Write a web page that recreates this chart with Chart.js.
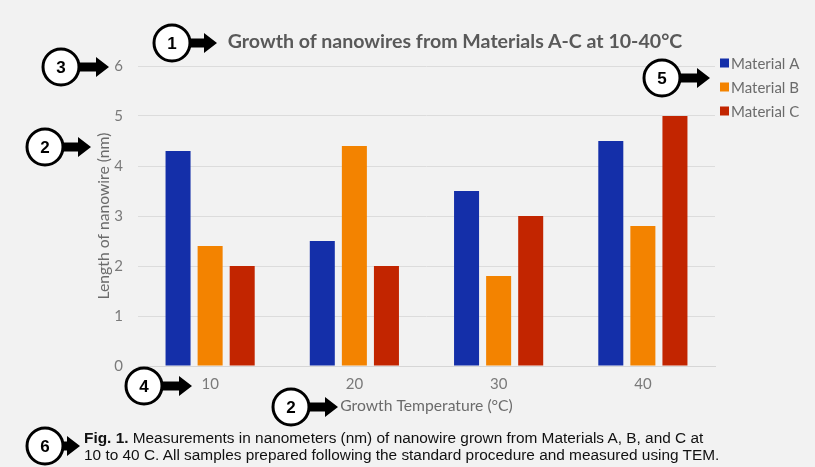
<!DOCTYPE html>
<html>
<head>
<meta charset="utf-8">
<script src="https://cdn.jsdelivr.net/npm/chart.js@4/dist/chart.umd.min.js"></script>
<style>
  html, body { margin: 0; padding: 0; background: #f2f2f2; }
  #wrap { position: relative; width: 815px; height: 467px; background: #f2f2f2; }
  #c { position: absolute; left: 0; top: 0; }
  #ov { position: absolute; left: 0; top: 0; }
</style>
</head>
<body>
<div id="wrap">
  <canvas id="c" width="815" height="467"></canvas>
  <svg id="ov" width="815" height="467" xmlns="http://www.w3.org/2000/svg"></svg>
</div>
<script>
// ---- data ----
const categories = ['10', '20', '30', '40'];
const materialA = [4.3, 2.5, 3.5, 4.5];
const materialB = [2.4, 4.4, 1.8, 2.8];
const materialC = [2.0, 2.0, 3.0, 5.0];
const seriesNames = ['Material A', 'Material B', 'Material C'];
const yTicks = [0, 1, 2, 3, 4, 5, 6];
const chartTitle = 'Growth of nanowires from Materials A-C at 10-40°C';
const xTitle = 'Growth Temperature (°C)';
const yTitle = 'Length of nanowire (nm)';
const captionBold = 'Fig. 1.';
const captionLine1 = ' Measurements in nanometers (nm) of nanowire grown from Materials A, B, and C at';
const captionLine2 = '10 to 40 C. All samples prepared following the standard procedure and measured using TEM.';
const markers = ['1', '3', '2', '5', '4', '2', '6'];

const colors = ['#142fa9', '#f38300', '#c22500'];
const FONT = 'Lato, "Open Sans", sans-serif';

const legendPlugin = {
  id: 'customLegend',
  afterDraw(chart) {
    const ctx = chart.ctx;
    ctx.save();
    ctx.font = '15px ' + FONT;
    ctx.textBaseline = 'middle';
    chart.data.datasets.forEach((ds, i) => {
      const y = 63 + i * 24;
      ctx.fillStyle = ds.backgroundColor;
      ctx.fillRect(720, y - 4.5, 9, 9);
      ctx.fillStyle = '#6b6b6b';
      ctx.fillText(ds.label, 731, y + 1);
    });
    ctx.restore();
  }
};

const chart = new Chart(document.getElementById('c'), {
  type: 'bar',
  data: {
    labels: categories,
    datasets: [
      { label: seriesNames[0], data: materialA, backgroundColor: colors[0] },
      { label: seriesNames[1], data: materialB, backgroundColor: colors[1] },
      { label: seriesNames[2], data: materialC, backgroundColor: colors[2] }
    ]
  },
  options: {
    responsive: false,
    animation: false,
    devicePixelRatio: 1,
    layout: { padding: { left: 95, right: 100, top: 66, bottom: 52 } },
    categoryPercentage: 0.667,
    barPercentage: 0.78,
    plugins: {
      legend: { display: false },
      title: { display: false },
      tooltip: { enabled: false }
    },
    scales: {
      x: {
        grid: { display: false, drawTicks: false },
        border: { display: true, color: '#d6d6d6', width: 1 },
        ticks: { color: '#7a7a7a', font: { family: FONT, size: 15 }, padding: 9 },
        title: { display: true, text: xTitle, color: '#6b6b6b', font: { family: FONT, size: 15.7 }, padding: 0 },
        afterFit(scale) { scale.height = 49; }
      },
      y: {
        min: 0, max: 6,
        afterBuildTicks(scale) { scale.ticks = yTicks.map(v => ({ value: v })); },
        grid: { color: '#dcdcdc', drawTicks: false, lineWidth: 1 },
        border: { display: false },
        ticks: { color: '#7a7a7a', font: { family: FONT, size: 15 }, padding: 15 },
        title: { display: true, text: yTitle, color: '#6b6b6b', font: { family: FONT, size: 15.7 }, padding: 0 },
        afterFit(scale) { scale.width = 43; }
      }
    }
  },
  plugins: [legendPlugin]
});

// ---- overlay: title, caption, numbered markers ----
const NS = 'http://www.w3.org/2000/svg';
const svg = document.getElementById('ov');
function el(name, attrs, text) {
  const e = document.createElementNS(NS, name);
  for (const k in attrs) e.setAttribute(k, attrs[k]);
  if (text !== undefined) e.textContent = text;
  svg.appendChild(e);
  return e;
}
el('text', { x: 455, y: 48, 'text-anchor': 'middle', 'font-family': FONT, 'font-weight': 'bold', 'font-size': 19.6, fill: '#595959' }, chartTitle);

const CAPF = '"Liberation Sans", Arial, sans-serif';
const cap1 = el('text', { x: 84, y: 443, 'font-family': CAPF, 'font-size': 15.4, fill: '#111' });
const b = document.createElementNS(NS, 'tspan'); b.setAttribute('font-weight', 'bold'); b.textContent = captionBold; cap1.appendChild(b);
const r = document.createElementNS(NS, 'tspan'); r.textContent = captionLine1; cap1.appendChild(r);
el('text', { x: 84, y: 460, 'font-family': CAPF, 'font-size': 15.4, fill: '#111' }, captionLine2);

const markerPos = [
  [172, 43, 217], [61, 67, 109], [45, 147, 91], [662, 78, 710],
  [144, 386, 192], [291, 407, 338], [45, 446, 80]
];
markers.forEach((m, i) => {
  const [cx, cy, tip] = markerPos[i];
  const rad = 18;
  const headLen = 13, headH = 10, shaftH = 4.5;
  const baseX = tip - headLen;
  el('path', { d: `M${cx + rad - 2},${cy - shaftH} L${baseX},${cy - shaftH} L${baseX},${cy - headH} L${tip},${cy} L${baseX},${cy + headH} L${baseX},${cy + shaftH} L${cx + rad - 2},${cy + shaftH} Z`, fill: '#000' });
  el('circle', { cx, cy, r: rad, fill: '#fff', stroke: '#000', 'stroke-width': 3 });
  el('text', { x: cx, y: cy + 6, 'text-anchor': 'middle', 'font-family': CAPF, 'font-weight': 'bold', 'font-size': 17, fill: '#000' }, m);
});
</script>
</body>
</html>
